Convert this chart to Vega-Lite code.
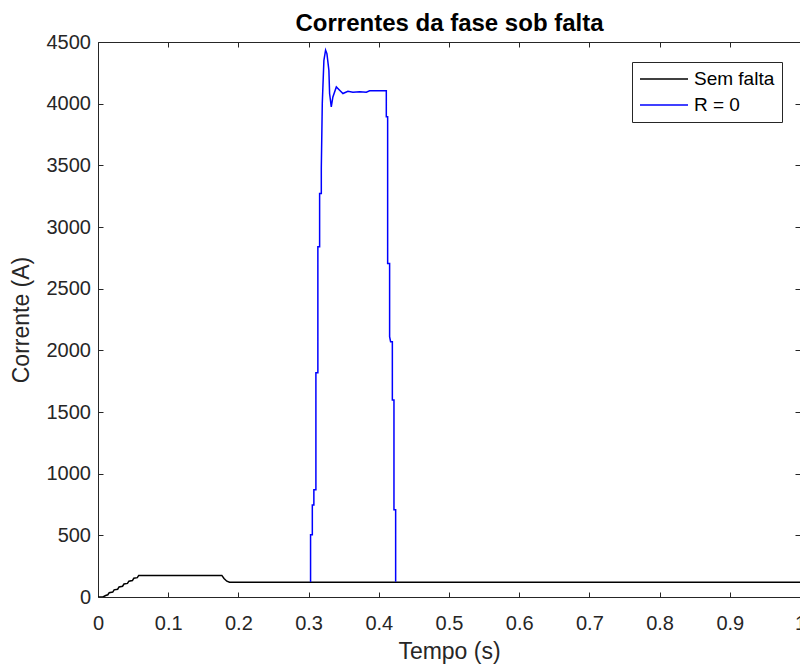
{
  "$schema": "https://vega.github.io/schema/vega-lite/v6.json",
  "autosize": {"type": "none"},
  "width": 702,
  "height": 555,
  "padding": {"left": 98, "top": 42, "right": 0, "bottom": 71},
  "background": "white",
  "config": {
    "view": {"stroke": null},
    "axis": {
      "grid": false,
      "domainColor": "#262626",
      "domainWidth": 1,
      "tickColor": "#262626",
      "tickWidth": 1,
      "tickSize": -5,
      "labelColor": "#262626",
      "titleColor": "#262626",
      "labelFont": "Liberation Sans",
      "titleFont": "Liberation Sans",
      "labelFontSize": 20,
      "titleFontSize": 23,
      "titleFontWeight": "normal",
      "labelFlush": false,
      "labelOverlap": false,
      "labelBound": false
    },
    "legend": {
      "labelFont": "Liberation Sans",
      "labelFontSize": 19,
      "labelColor": "#000000"
    }
  },
  "data": {
    "values": [
      {"serie": "Sem falta", "k": 1, "t": 0.0, "i_a": 0},
      {"serie": "Sem falta", "k": 2, "t": 0.007, "i_a": 0},
      {"serie": "Sem falta", "k": 3, "t": 0.011, "i_a": 12},
      {"serie": "Sem falta", "k": 4, "t": 0.014, "i_a": 18},
      {"serie": "Sem falta", "k": 5, "t": 0.016, "i_a": 35},
      {"serie": "Sem falta", "k": 6, "t": 0.021, "i_a": 40},
      {"serie": "Sem falta", "k": 7, "t": 0.023, "i_a": 58},
      {"serie": "Sem falta", "k": 8, "t": 0.028, "i_a": 63},
      {"serie": "Sem falta", "k": 9, "t": 0.030, "i_a": 82},
      {"serie": "Sem falta", "k": 10, "t": 0.035, "i_a": 87},
      {"serie": "Sem falta", "k": 11, "t": 0.037, "i_a": 105},
      {"serie": "Sem falta", "k": 12, "t": 0.042, "i_a": 110},
      {"serie": "Sem falta", "k": 13, "t": 0.044, "i_a": 128},
      {"serie": "Sem falta", "k": 14, "t": 0.049, "i_a": 133},
      {"serie": "Sem falta", "k": 15, "t": 0.051, "i_a": 152},
      {"serie": "Sem falta", "k": 16, "t": 0.056, "i_a": 157},
      {"serie": "Sem falta", "k": 17, "t": 0.058, "i_a": 175},
      {"serie": "Sem falta", "k": 18, "t": 0.1764, "i_a": 175},
      {"serie": "Sem falta", "k": 19, "t": 0.1795, "i_a": 150},
      {"serie": "Sem falta", "k": 20, "t": 0.1835, "i_a": 128},
      {"serie": "Sem falta", "k": 21, "t": 0.1874, "i_a": 120},
      {"serie": "Sem falta", "k": 22, "t": 1.0, "i_a": 120},
      {"serie": "R = 0", "k": 1, "t": 0.3028, "i_a": 122},
      {"serie": "R = 0", "k": 2, "t": 0.3028, "i_a": 505},
      {"serie": "R = 0", "k": 3, "t": 0.3053, "i_a": 505},
      {"serie": "R = 0", "k": 4, "t": 0.3053, "i_a": 745},
      {"serie": "R = 0", "k": 5, "t": 0.3075, "i_a": 745},
      {"serie": "R = 0", "k": 6, "t": 0.3075, "i_a": 869},
      {"serie": "R = 0", "k": 7, "t": 0.3104, "i_a": 869},
      {"serie": "R = 0", "k": 8, "t": 0.3104, "i_a": 1819},
      {"serie": "R = 0", "k": 9, "t": 0.3132, "i_a": 1819},
      {"serie": "R = 0", "k": 10, "t": 0.3132, "i_a": 2840},
      {"serie": "R = 0", "k": 11, "t": 0.3157, "i_a": 2840},
      {"serie": "R = 0", "k": 12, "t": 0.3157, "i_a": 3272},
      {"serie": "R = 0", "k": 13, "t": 0.3181, "i_a": 3272},
      {"serie": "R = 0", "k": 14, "t": 0.3181, "i_a": 3478},
      {"serie": "R = 0", "k": 15, "t": 0.3195, "i_a": 4003},
      {"serie": "R = 0", "k": 16, "t": 0.3218, "i_a": 4352},
      {"serie": "R = 0", "k": 17, "t": 0.3242, "i_a": 4434},
      {"serie": "R = 0", "k": 18, "t": 0.3261, "i_a": 4406},
      {"serie": "R = 0", "k": 19, "t": 0.3289, "i_a": 4271},
      {"serie": "R = 0", "k": 20, "t": 0.3299, "i_a": 4082},
      {"serie": "R = 0", "k": 21, "t": 0.3323, "i_a": 3974},
      {"serie": "R = 0", "k": 22, "t": 0.3346, "i_a": 4055},
      {"serie": "R = 0", "k": 23, "t": 0.3395, "i_a": 4136},
      {"serie": "R = 0", "k": 24, "t": 0.3442, "i_a": 4109},
      {"serie": "R = 0", "k": 25, "t": 0.3489, "i_a": 4082},
      {"serie": "R = 0", "k": 26, "t": 0.3560, "i_a": 4101},
      {"serie": "R = 0", "k": 27, "t": 0.3631, "i_a": 4093},
      {"serie": "R = 0", "k": 28, "t": 0.3727, "i_a": 4097},
      {"serie": "R = 0", "k": 29, "t": 0.3822, "i_a": 4093},
      {"serie": "R = 0", "k": 30, "t": 0.3869, "i_a": 4105},
      {"serie": "R = 0", "k": 31, "t": 0.4107, "i_a": 4105},
      {"serie": "R = 0", "k": 32, "t": 0.4107, "i_a": 3893},
      {"serie": "R = 0", "k": 33, "t": 0.4126, "i_a": 3893},
      {"serie": "R = 0", "k": 34, "t": 0.4126, "i_a": 2705},
      {"serie": "R = 0", "k": 35, "t": 0.4154, "i_a": 2705},
      {"serie": "R = 0", "k": 36, "t": 0.4154, "i_a": 2111},
      {"serie": "R = 0", "k": 37, "t": 0.4168, "i_a": 2070},
      {"serie": "R = 0", "k": 38, "t": 0.4193, "i_a": 2070},
      {"serie": "R = 0", "k": 39, "t": 0.4193, "i_a": 1598},
      {"serie": "R = 0", "k": 40, "t": 0.4216, "i_a": 1598},
      {"serie": "R = 0", "k": 41, "t": 0.4216, "i_a": 707},
      {"serie": "R = 0", "k": 42, "t": 0.4240, "i_a": 707},
      {"serie": "R = 0", "k": 43, "t": 0.4240, "i_a": 124}
    ]
  },
  "layer": [
    {
      "mark": {"type": "line", "strokeWidth": 1.5, "clip": true},
      "encoding": {
        "x": {
          "field": "t",
          "type": "quantitative",
          "scale": {"domain": [0, 1], "nice": false, "zero": false},
          "axis": {
            "orient": "bottom",
            "values": [0, 0.1, 0.2, 0.3, 0.4, 0.5, 0.6, 0.7, 0.8, 0.9, 1],
            "format": ".1~f",
            "labelPadding": 21,
            "title": "Tempo (s)",
            "titlePadding": 7
          }
        },
        "y": {
          "field": "i_a",
          "type": "quantitative",
          "scale": {"domain": [0, 4500], "nice": false},
          "axis": {
            "orient": "left",
            "values": [0, 500, 1000, 1500, 2000, 2500, 3000, 3500, 4000, 4500],
            "format": "d",
            "labelPadding": 12.5,
            "title": "Corrente (A)",
            "titlePadding": 13
          }
        },
        "color": {
          "field": "serie",
          "type": "nominal",
          "scale": {"domain": ["Sem falta", "R = 0"], "range": ["#000000", "#0000ff"]},
          "legend": {
            "title": null,
            "orient": "none",
            "legendX": 534,
            "legendY": 20,
            "symbolType": "stroke",
            "symbolSize": 2304,
            "symbolStrokeWidth": 1.5,
            "clipHeight": 20,
            "labelOffset": 5,
            "rowPadding": 6,
            "padding": 7,
            "strokeColor": "#262626",
            "fillColor": "white"
          }
        },
        "order": {"field": "k", "type": "quantitative"}
      }
    },
    {
      "mark": {"type": "point", "opacity": 0},
      "encoding": {
        "x": {
          "field": "t",
          "type": "quantitative",
          "axis": {
            "orient": "top",
            "values": [0, 0.1, 0.2, 0.3, 0.4, 0.5, 0.6, 0.7, 0.8, 0.9, 1],
            "labels": false,
            "title": "Correntes da fase sob falta",
            "titleFontWeight": "bold",
            "titleFontSize": 24,
            "titleColor": "#000000",
            "titlePadding": 6
          }
        },
        "y": {
          "field": "i_a",
          "type": "quantitative",
          "axis": {
            "orient": "right",
            "values": [0, 500, 1000, 1500, 2000, 2500, 3000, 3500, 4000, 4500],
            "labels": false,
            "title": null
          }
        }
      }
    }
  ],
  "resolve": {"axis": {"x": "independent", "y": "independent"}}
}
